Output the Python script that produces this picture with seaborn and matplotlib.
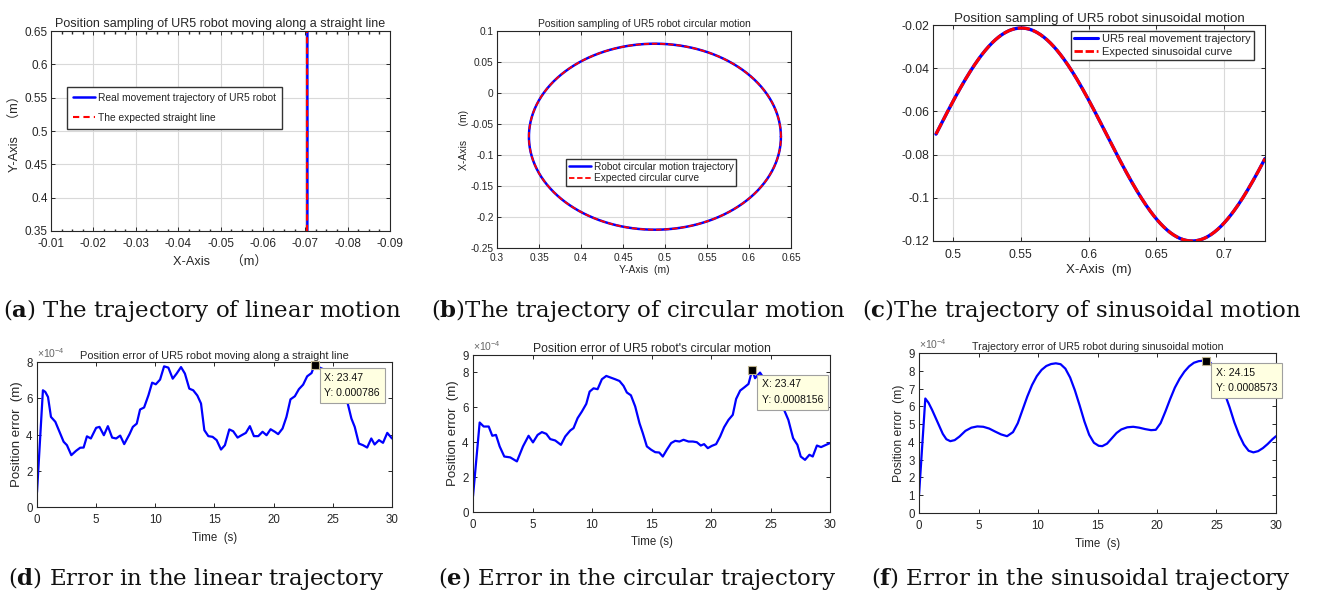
import numpy as np
import matplotlib
matplotlib.use("Agg")
import matplotlib.pyplot as plt
import seaborn as sns
from matplotlib.ticker import FuncFormatter, ScalarFormatter, AutoMinorLocator
from matplotlib.lines import Line2D

# ---------------- data ----------------
# (a) straight line
line_y = [0.35, 0.40, 0.45, 0.50, 0.55, 0.60, 0.65]
line_x_real = [-0.07049, -0.07051, -0.07050, -0.07052, -0.07050, -0.07049, -0.07051]
line_x_expected = [-0.0705, -0.0705, -0.0705, -0.0705, -0.0705, -0.0705, -0.0705]

# (b) circle: centre / radius
circle_center = (0.488, -0.0705)
circle_radius = 0.150

# (c) sinusoid: parameters
sine_x_start, sine_x_end = 0.4875, 0.730
sine_center, sine_amp = -0.0707, 0.0493
sine_peak_x, sine_period = 0.5503, 0.2518

# (d) error, linear (x1e-4 m)
t_d = [0, 0.5, 0.7, 0.93, 1.18, 1.55, 1.9, 2.25, 2.53, 2.9, 3.3, 3.65, 3.94, 4.22, 4.55,
       5.0, 5.28, 5.65, 5.99, 6.35, 6.69, 7.03, 7.37, 7.82, 8.1, 8.43, 8.71, 9.05, 9.42, 9.73,
       10.04, 10.4, 10.74, 11.1, 11.47, 11.8, 12.17, 12.5, 12.87, 13.2, 13.55, 13.86, 14.14, 14.48, 14.84,
       15.18, 15.55, 15.88, 16.25, 16.58, 16.95, 17.29, 17.65, 17.99, 18.33, 18.7, 19.06, 19.4, 19.74, 20.1,
       20.38, 20.75, 21.08, 21.42, 21.79, 22.13, 22.49, 22.83, 23.2, 23.47, 23.8, 24.2, 24.6, 25.0, 25.4,
       25.8, 26.1, 26.3, 26.57, 26.85, 27.2, 27.55, 27.9, 28.25, 28.53, 28.9, 29.24, 29.6, 30.0]
e_d = [0.81, 6.44, 6.35, 6.07, 4.97, 4.7, 4.15, 3.6, 3.41, 2.86, 3.1, 3.27, 3.28, 3.9, 3.78,
       4.37, 4.42, 3.96, 4.46, 3.83, 3.78, 3.94, 3.47, 4.02, 4.42, 4.6, 5.38, 5.49, 6.17, 6.86,
       6.77, 7.03, 7.76, 7.69, 7.08, 7.36, 7.72, 7.36, 6.53, 6.44, 6.15, 5.71, 4.24, 3.91, 3.87,
       3.69, 3.17, 3.41, 4.28, 4.18, 3.83, 3.96, 4.09, 4.46, 3.91, 3.91, 4.15, 3.96, 4.29, 4.15,
       4.02, 4.33, 4.97, 5.94, 6.11, 6.5, 6.75, 7.21, 7.39, 7.86, 7.72, 7.6, 7.4, 7.1, 6.8,
       6.45, 6.1, 5.6, 4.88, 4.42, 3.5, 3.41, 3.28, 3.78, 3.45, 3.69, 3.54, 4.09, 3.78]

# (e) error, circular (x1e-4 m)
t_e = [0, 0.56, 0.9, 1.32, 1.62, 1.93, 2.24, 2.63, 3.13, 3.69, 4.2, 4.67, 5.04, 5.43, 5.79,
       6.16, 6.49, 6.91, 7.39, 7.75, 8.17, 8.45, 8.79, 9.15, 9.52, 9.8, 10.13, 10.47, 10.83, 11.2,
       11.59, 11.95, 12.31, 12.65, 12.93, 13.27, 13.63, 13.99, 14.27, 14.61, 14.97, 15.31, 15.65, 15.95, 16.29,
       16.65, 16.99, 17.35, 17.69, 18.11, 18.47, 18.81, 19.14, 19.42, 19.73, 20.07, 20.43, 20.77, 21.1, 21.47,
       21.83, 22.11, 22.45, 22.81, 23.15, 23.47, 23.7, 24.12, 24.5, 25.0, 25.5, 26.0, 26.2, 26.5, 26.9,
       27.26, 27.54, 27.9, 28.27, 28.55, 28.9, 29.25, 29.67, 30.0]
e_e = [0.9, 5.13, 4.9, 4.9, 4.37, 4.42, 3.76, 3.18, 3.13, 2.9, 3.76, 4.37, 3.99, 4.42, 4.58,
       4.48, 4.18, 4.1, 3.85, 4.33, 4.67, 4.81, 5.38, 5.76, 6.2, 6.9, 7.09, 7.04, 7.61, 7.8,
       7.7, 7.61, 7.51, 7.23, 6.85, 6.69, 6.05, 5.09, 4.52, 3.76, 3.57, 3.43, 3.41, 3.18, 3.57,
       3.95, 4.08, 4.04, 4.14, 4.04, 4.04, 4.0, 3.81, 3.89, 3.66, 3.79, 3.89, 4.33, 4.86, 5.28,
       5.57, 6.48, 6.96, 7.15, 7.34, 8.156, 7.67, 7.99, 7.6, 7.1, 6.6, 6.1, 5.76, 5.28, 4.23,
       3.85, 3.18, 2.99, 3.28, 3.18, 3.81, 3.72, 3.85, 3.95]

# (f) error, sinusoidal (x1e-4 m)
t_f = [0, 0.53, 0.8, 1.1, 1.4, 1.7, 2.0, 2.3, 2.63, 3.0, 3.4, 3.9, 4.4, 4.9, 5.4, 5.9, 6.4, 6.9,
       7.4, 7.9, 8.3, 8.7, 9.1, 9.5, 9.9, 10.3, 10.7, 11.1, 11.5, 11.9, 12.3, 12.7, 13.1, 13.5,
       13.9, 14.3, 14.7, 15.1, 15.4, 15.8, 16.2, 16.6, 17.0, 17.5, 18.0, 18.5, 19.0, 19.5, 19.9,
       20.3, 20.7, 21.1, 21.5, 21.9, 22.3, 22.7, 23.1, 23.5, 23.9, 24.15, 24.5, 24.9, 25.3, 25.7,
       26.1, 26.5, 26.9, 27.3, 27.7, 28.1, 28.5, 28.9, 29.3, 29.7, 30.0]
e_f = [1.0, 6.44, 6.2, 5.8, 5.35, 4.9, 4.45, 4.15, 4.04, 4.1, 4.3, 4.62, 4.8, 4.87, 4.85, 4.75, 4.58, 4.42,
       4.32, 4.55, 5.05, 5.8, 6.55, 7.2, 7.7, 8.05, 8.27, 8.38, 8.42, 8.37, 8.12, 7.62, 6.9, 6.05,
       5.15, 4.4, 3.95, 3.78, 3.76, 3.9, 4.2, 4.5, 4.7, 4.82, 4.85, 4.8, 4.72, 4.66, 4.68,
       5.05, 5.7, 6.4, 7.05, 7.55, 7.95, 8.25, 8.45, 8.54, 8.57, 8.573, 8.45, 8.05, 7.4, 6.7,
       5.95, 5.1, 4.4, 3.85, 3.5, 3.41, 3.48, 3.65, 3.88, 4.15, 4.32]

tips = {"d": (23.47, 7.86e-4, "X: 23.47\nY: 0.000786"),
        "e": (23.47, 8.156e-4, "X: 23.47\nY: 0.0008156"),
        "f": (24.15, 8.573e-4, "X: 24.15\nY: 0.0008573")}

# ---------------- style ----------------
sns.set_theme(style="white")
plt.rcParams.update({
    "font.family": ["Liberation Sans", "Noto Sans CJK SC", "DejaVu Sans"],
    "axes.unicode_minus": False,
    "mathtext.fontset": "custom",
    "mathtext.rm": "Liberation Sans",
    "mathtext.it": "Liberation Sans:italic",
    "mathtext.bf": "DejaVu Serif:bold",
    "axes.edgecolor": "#262626",
    "axes.linewidth": 0.8,
    "xtick.direction": "in", "ytick.direction": "in",
    "xtick.top": True, "ytick.right": True,
    "xtick.bottom": True, "ytick.left": True,
    "xtick.major.size": 3, "ytick.major.size": 3,
    "xtick.minor.size": 1.8, "ytick.minor.size": 1.8,
    "xtick.major.width": 0.7, "ytick.major.width": 0.7,
    "xtick.color": "#262626", "ytick.color": "#262626",
    "xtick.labelcolor": "#262626", "ytick.labelcolor": "#262626",
    "xtick.major.pad": 2.5, "ytick.major.pad": 2.5,
    "grid.color": "#d9d9d9", "grid.linewidth": 0.8,
    "axes.facecolor": "white",
})

W, H = 1320, 594
fig = plt.figure(figsize=(W / 100, H / 100), dpi=100)


def add_ax(x0, y0, x1, y1):
    return fig.add_axes([x0 / W, 1 - y1 / H, (x1 - x0) / W, (y1 - y0) / H])


gfmt = FuncFormatter(lambda v, p: "%g" % (round(v, 6) + 0.0))
BLUE, RED = "#0000ff", "#ff0000"

# ---------- (a) ----------
ax = add_ax(51, 31, 390, 231)
sns.lineplot(x=line_x_real, y=line_y, ax=ax, color=BLUE, linewidth=1.8, sort=False, estimator=None)
sns.lineplot(x=line_x_expected, y=line_y, ax=ax, color=RED, linewidth=1.5, sort=False,
             estimator=None, linestyle=(0, (3, 2)))
ax.set_xlim(-0.01, -0.09)
ax.set_ylim(0.35, 0.65)
ax.set_xticks(np.arange(-0.01, -0.091, -0.01))
ax.set_yticks([0.35, 0.4, 0.45, 0.5, 0.55, 0.6, 0.65])
ax.xaxis.set_minor_locator(AutoMinorLocator(4))
ax.xaxis.set_major_formatter(gfmt); ax.yaxis.set_major_formatter(gfmt)
ax.tick_params(labelsize=8.5)
ax.tick_params(axis="x", pad=5)
ax.grid(True, which="major")
ax.set_title("Position sampling of UR5 robot moving along a straight line", fontsize=9, pad=3)
ax.set_xlabel("X-Axis      （m）", fontsize=9.2, labelpad=5)
ax.set_ylabel("Y-Axis   （m）", fontsize=9.2, labelpad=2)
h = [Line2D([], [], color=BLUE, lw=1.8), Line2D([], [], color=RED, lw=1.5, ls=(0, (3, 2)))]
ax.legend(h, ["Real movement trajectory of UR5 robot", "The expected straight line"],
          loc="upper left", bbox_to_anchor=(0.047, 0.72), fontsize=7.4, frameon=True, fancybox=False,
          edgecolor="#333333", framealpha=1, labelspacing=1.0, handlelength=2.2, handletextpad=0.3,
          borderpad=0.55, borderaxespad=0)

# ---------- (b) ----------
ax = add_ax(497, 31, 791, 248)
th = np.linspace(0, 2 * np.pi, 400)
cx = circle_center[0] + circle_radius * np.cos(th)
cy = circle_center[1] + circle_radius * np.sin(th)
sns.lineplot(x=cx, y=cy, ax=ax, color=BLUE, linewidth=1.8, sort=False, estimator=None)
sns.lineplot(x=cx, y=cy, ax=ax, color=RED, linewidth=1.3, sort=False, estimator=None,
             linestyle=(0, (3, 1.5)))
ax.set_xlim(0.3, 0.65); ax.set_ylim(-0.25, 0.1)
ax.set_xticks(np.arange(0.3, 0.651, 0.05))
ax.set_yticks(np.arange(-0.25, 0.101, 0.05))
ax.xaxis.set_major_formatter(gfmt); ax.yaxis.set_major_formatter(gfmt)
ax.tick_params(labelsize=7.3)
ax.tick_params(axis="x", pad=3.5)
ax.grid(True)
ax.set_title("Position sampling of UR5 robot circular motion", fontsize=7.5, pad=3)
ax.set_xlabel("Y-Axis  (m)", fontsize=7.5, labelpad=1.5)
ax.set_ylabel("X-Axis     (m)", fontsize=7.5, labelpad=1)
h = [Line2D([], [], color=BLUE, lw=1.8), Line2D([], [], color=RED, lw=1.3, ls=(0, (3, 1.5)))]
ax.legend(h, ["Robot circular motion trajectory", "Expected circular curve"],
          loc="upper left", bbox_to_anchor=(0.235, 0.41), fontsize=7.3, frameon=True, fancybox=False,
          edgecolor="#333333", framealpha=1, labelspacing=0.15, handlelength=2.2, handletextpad=0.3,
          borderpad=0.25, borderaxespad=0)

# ---------- (c) ----------
ax = add_ax(933, 25, 1265, 241)
sx = np.linspace(sine_x_start, sine_x_end, 300)
sy = sine_center + sine_amp * np.cos(2 * np.pi * (sx - sine_peak_x) / sine_period)
sns.lineplot(x=sx, y=sy, ax=ax, color=BLUE, linewidth=2.4, sort=False, estimator=None)
sns.lineplot(x=sx, y=sy, ax=ax, color=RED, linewidth=2.2, sort=False, estimator=None,
             linestyle=(0, (4, 1)))
ax.set_xlim(0.4853, 0.730); ax.set_ylim(-0.12, -0.02)
ax.set_xticks([0.5, 0.55, 0.6, 0.65, 0.7])
ax.set_yticks([-0.12, -0.1, -0.08, -0.06, -0.04, -0.02])
ax.xaxis.set_major_formatter(gfmt); ax.yaxis.set_major_formatter(gfmt)
ax.tick_params(labelsize=8.7)
ax.tick_params(axis="x", pad=5.5)
ax.grid(True)
ax.set_title("Position sampling of UR5 robot sinusoidal motion", fontsize=9.6, pad=2)
ax.set_xlabel("X-Axis  (m)", fontsize=9.5, labelpad=2.5)
h = [Line2D([], [], color=BLUE, lw=2.2), Line2D([], [], color=RED, lw=2.0, ls=(0, (3, 1)))]
ax.legend(h, ["UR5 real movement trajectory", "Expected sinusoidal curve"],
          loc="upper right", bbox_to_anchor=(0.966, 0.972), fontsize=8, frameon=True, fancybox=False,
          edgecolor="#333333", framealpha=1, labelspacing=0.2, handlelength=2.2, handletextpad=0.3,
          borderpad=0.3, borderaxespad=0)


# ---------- error panels ----------
def error_panel(box, t, e, ylim, yticks, title, tfs, xlabel, ylfs, key, tip_off):
    ax = add_ax(*box)
    ev = np.array(e) * 1e-4
    sns.lineplot(x=t, y=ev, ax=ax, color=BLUE, linewidth=1.6, sort=False, estimator=None)
    ax.set_xlim(0, 30); ax.set_ylim(0, ylim * 1e-4)
    ax.set_xticks([0, 5, 10, 15, 20, 25, 30])
    ax.set_yticks(np.array(yticks) * 1e-4)
    fmt = ScalarFormatter(useMathText=True)
    fmt.set_powerlimits((0, 0))
    ax.yaxis.set_major_formatter(fmt)
    ax.yaxis.get_offset_text().set_fontsize(7.5)
    ax.yaxis.get_offset_text().set_color("#666666")
    ax.tick_params(labelsize=8.3)
    ax.tick_params(axis="x", pad=5)
    ax.set_title(title, fontsize=tfs, pad=2.5)
    ax.set_xlabel(xlabel, fontsize=8.3, labelpad=4)
    ax.set_ylabel("Position error  (m)", fontsize=ylfs, labelpad=2)
    tx, ty, txt = tips[key]
    ax.plot([tx], [ty], marker="s", ms=5.5, mfc="black", mec="#bdb38f", mew=0.8, zorder=5, clip_on=False)
    ax.annotate(txt, xy=(tx, ty), xytext=tip_off, textcoords="offset points", fontsize=7.6,
                ha="left", va="top", linespacing=1.7, color="#111111", zorder=6,
                bbox=dict(boxstyle="square,pad=0.45", fc="#ffffe1", ec="#a0a0a0", lw=0.8))
    return ax


error_panel((37, 362, 392, 507), t_d, e_d, 8, [0, 2, 4, 6, 8],
            "Position error of UR5 robot moving along a straight line", 7.9, "Time  (s)", 9.5, "d", (7, -6))
error_panel((473, 355, 830, 512), t_e, e_e, 9, [0, 2, 4, 6, 8, 9],
            "Position error of UR5 robot's circular motion", 8.8, "Time (s)", 9.5, "e", (7, -7))
error_panel((919, 353, 1276, 513), t_f, e_f, 9, list(range(10)),
            "Trajectory error of UR5 robot during sinusoidal motion", 7.6, "Time  (s)", 8.7, "f", (7, -5))

# ---------- captions ----------
caps = [(202, 310, "a", ") The trajectory of linear motion"),
        (638, 310, "b", ")The trajectory of circular motion"),
        (1082, 310, "c", ")The trajectory of sinusoidal motion"),
        (196, 578, "d", ") Error in the linear trajectory"),
        (637, 578, "e", ") Error in the circular trajectory"),
        (1081, 578, "f", ") Error in the sinusoidal trajectory")]
for x, y, letter, rest in caps:
    fig.text(x / W, 1 - y / H, "($\\mathbf{%s}$%s" % (letter, rest), fontsize=16.5,
             family="DejaVu Serif", ha="center", va="center", color="#111111")

fig.savefig("out.png", dpi=100, facecolor="white")
